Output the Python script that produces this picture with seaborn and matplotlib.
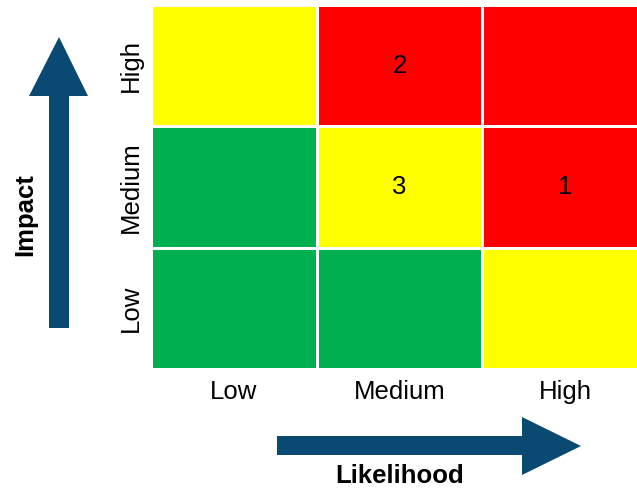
import numpy as np
import pandas as pd
import matplotlib
matplotlib.use("Agg")
import matplotlib.pyplot as plt
from matplotlib.colors import ListedColormap
from matplotlib.patches import Polygon
import seaborn as sns

# 데이터
likelihood = ["Low", "Medium", "High"]
impact = ["High", "Medium", "Low"]          # top -> bottom
# 위험 등급: 0 = green, 1 = yellow, 2 = red
risk_high = [1, 2, 2]
risk_medium = [0, 1, 2]
risk_low = [0, 0, 1]
count_high = ["", "2", ""]
count_medium = ["", "3", "1"]
count_low = ["", "", ""]

risk = pd.DataFrame([risk_high, risk_medium, risk_low], index=impact, columns=likelihood)
counts = np.array([count_high, count_medium, count_low])

sns.set_style("white")
plt.rcParams['font.family'] = ['Liberation Sans', 'DejaVu Sans']
plt.rcParams['text.color'] = 'black'
plt.rcParams['xtick.color'] = 'black'
plt.rcParams['ytick.color'] = 'black'

W, H = 637, 491
fig = plt.figure(figsize=(W / 100, H / 100), dpi=100)
# 오른쪽 열은 그림 가장자리에서 잘림
ax = fig.add_axes([151 / W, (H - 369) / H, 497 / W, 364 / H])

cmap = ListedColormap(["#00B050", "#FFFF00", "#FF0000"])
sns.heatmap(risk, cmap=cmap, vmin=-0.5, vmax=2.5, cbar=False,
            annot=counts, fmt="", annot_kws={"fontsize": 18.5, "color": "black"},
            linewidths=1, linecolor="white", ax=ax)

ax.tick_params(axis="x", length=0, labelsize=18.5, pad=8)
ax.tick_params(axis="y", length=0, labelsize=18.5, pad=6)
ax.set_yticklabels(impact, rotation=90, va="center")
ax.set_xticklabels(likelihood, rotation=0)
ax.set_xlabel("")
ax.set_ylabel("")

# 화살표 (pixel 좌표 -> figure 비율)
arrow_col = "#0A4A72"
def px(pts):
    return [(x / W, (H - y) / H) for x, y in pts]

up = px([(49, 328), (69, 328), (69, 96), (88, 96), (59, 37), (29, 96), (49, 96)])
right = px([(277, 436), (522, 436), (522, 417), (581, 446), (522, 475), (522, 455), (277, 455)])
for pts in (up, right):
    fig.patches.append(Polygon(pts, closed=True, transform=fig.transFigure,
                               facecolor=arrow_col, edgecolor="none"))

fig.text(25 / W, (H - 215) / H, "Impact", rotation=90, fontsize=18.5,
         fontweight="bold", ha="center", va="center")
fig.text(400 / W, (H - 476) / H, "Likelihood", fontsize=18.5,
         fontweight="bold", ha="center", va="center")

fig.savefig("out.png", dpi=100)
